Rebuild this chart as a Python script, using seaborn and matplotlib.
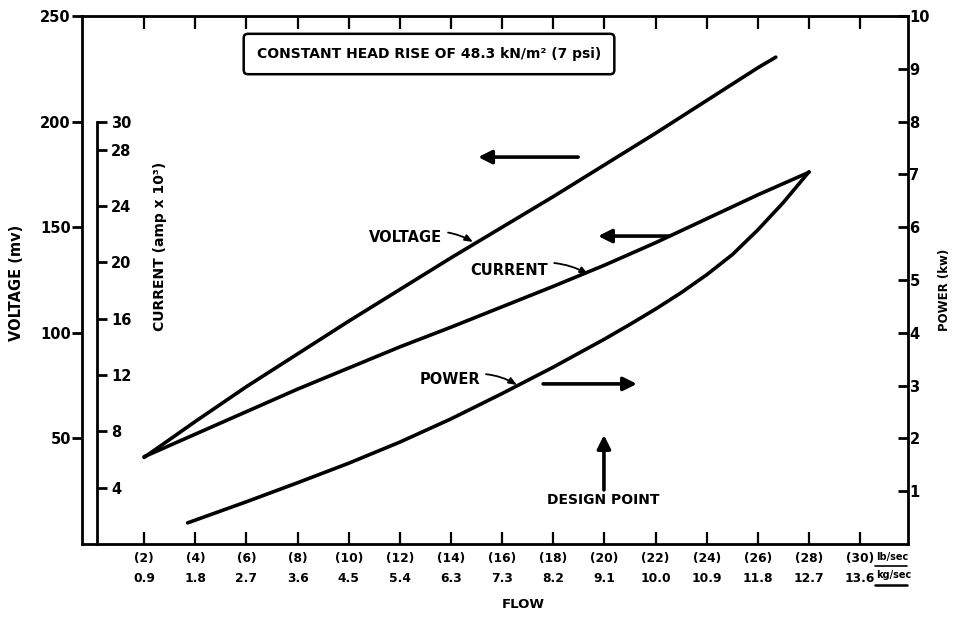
import numpy as np
import pandas as pd
import seaborn as sns
import matplotlib.pyplot as plt
from matplotlib.lines import Line2D

sns.set_style("ticks")
plt.rcParams['font.family'] = ['DejaVu Sans']
plt.rcParams['font.weight'] = 'bold'
for k in ["text.color", "axes.edgecolor", "xtick.color", "ytick.color", "axes.labelcolor"]:
    plt.rcParams[k] = "black"

# flow in lb/sec
voltage_flow = [2, 4, 6, 8, 10, 12, 14, 16, 18, 20, 22, 24, 26, 26.7]
voltage_mv = [41, 58, 74.5, 90, 105.5, 120.5, 135.5, 150, 164.5, 179.5, 194.5, 210, 225.5, 230.5]

current_flow = [2, 4, 6, 8, 10, 12, 14, 16, 18, 20, 22, 24, 26, 28]
current_amp = [6.2, 7.8, 9.4, 11.0, 12.5, 14.0, 15.4, 16.85, 18.3, 19.8, 21.4, 23.1, 24.8, 26.4]

power_flow = [3.7, 6, 8, 10, 12, 14, 16, 18, 20, 21, 22, 23, 24, 25, 26, 27, 28]
power_kw = [0.4, 0.8, 1.16, 1.53, 1.93, 2.37, 2.85, 3.35, 3.88, 4.16, 4.45, 4.76, 5.1, 5.48,
            5.95, 6.47, 7.05]

flow_lb_ticks = list(range(2, 31, 2))
flow_kg_labels = ["0.9", "1.8", "2.7", "3.6", "4.5", "5.4", "6.3", "7.3",
                  "8.2", "9.1", "10.0", "10.9", "11.8", "12.7", "13.6"]
voltage_ticks = [50, 100, 150, 200, 250]
current_ticks = [4, 8, 12, 16, 20, 24, 28, 30]
power_ticks = list(range(1, 11))

W, H = 954, 618
fig = plt.figure(figsize=(W / 100, H / 100), dpi=100)
ax = fig.add_axes([82 / W, 1 - 544 / H, (908 - 82) / W, (544 - 16) / H])
ax2 = ax.twinx()
ax3 = ax.twinx()

lw_curve = 2.6
sns.lineplot(x=voltage_flow, y=voltage_mv, ax=ax, color="black", lw=lw_curve, sort=False,
             solid_capstyle="round", solid_joinstyle="round")
sns.lineplot(x=current_flow, y=current_amp, ax=ax2, color="black", lw=lw_curve, sort=False,
             solid_capstyle="round", solid_joinstyle="round")
sns.lineplot(x=power_flow, y=power_kw, ax=ax3, color="black", lw=lw_curve, sort=False,
             solid_capstyle="round", solid_joinstyle="round")

ax.set_xlim(-0.43, 31.87)
ax.set_ylim(0, 250)
ax2.set_ylim(0, 37.5)
ax3.set_ylim(0, 10)

spine_w = 2.0
# voltage / main axis
for s in ["left", "bottom", "top"]:
    ax.spines[s].set_linewidth(spine_w)
ax.spines["right"].set_visible(False)
ax.set_yticks(voltage_ticks)
ax.tick_params(axis="y", direction="out", length=7, width=spine_w, labelsize=10.5, pad=1)
ax.set_xticks(flow_lb_ticks)
ax.set_xticklabels([f"({a})\n{b}" for a, b in zip(flow_lb_ticks, flow_kg_labels)],
                   linespacing=1.7)
ax.tick_params(axis="x", direction="in", length=9, width=1.6, labelsize=8.8, pad=6,
               top=True)
ax.set_xlabel("")
ax.set_ylabel("")

# current axis
for s in ["left", "bottom", "top"]:
    ax2.spines[s].set_visible(False)
ax2.spines["right"].set_position(("axes", 15 / 826))
ax2.spines["right"].set_bounds(0, 30)
ax2.spines["right"].set_linewidth(spine_w)
ax2.set_yticks(current_ticks)
ax2.tick_params(axis="y", direction="out", length=7, width=spine_w, labelsize=10.5, pad=3)
ax2.set_ylabel("")

# power axis
for s in ["left", "bottom", "top"]:
    ax3.spines[s].set_visible(False)
ax3.spines["right"].set_linewidth(spine_w)
ax3.set_yticks(power_ticks)
ax3.tick_params(axis="y", direction="in", length=7, width=spine_w, labelsize=10.5, pad=1)
ax3.set_ylabel("")

# axis titles
fig.text(17 / W, 1 - 283 / H, "VOLTAGE (mv)", rotation=90, ha="center", va="center",
         fontsize=10.5)
fig.text(160 / W, 1 - 246 / H, "CURRENT (amp x 10\u00b3)", rotation=90, ha="center", va="center",
         fontsize=10)
fig.text(945 / W, 1 - 290 / H, "POWER (kw)", rotation=90, ha="center", va="center", fontsize=8.5)
fig.text(523 / W, 1 - 604 / H, "FLOW", ha="center", va="center", fontsize=9.5)
fig.text(876 / W, 1 - 557 / H, "lb/sec", ha="left", va="center", fontsize=7)
fig.text(876 / W, 1 - 575 / H, "kg/sec", ha="left", va="center", fontsize=7)
fig.add_artist(Line2D([875 / W, 907 / W], [1 - 566 / H, 1 - 566 / H], color="black", lw=1.2))
fig.add_artist(Line2D([875 / W, 907 / W], [1 - 585 / H, 1 - 585 / H], color="black", lw=1.8))

# title box
ax.text(13.14, 232, "CONSTANT HEAD RISE OF 48.3 kN/m\u00b2 (7 psi)", ha="center", va="center",
        fontsize=10, bbox=dict(boxstyle="round,pad=0.95,rounding_size=0.3", fc="white",
                               ec="black", lw=1.8))

# direction arrows
big = dict(arrowstyle="-|>,head_length=0.8,head_width=0.4", lw=2.6, color="black",
           shrinkA=0, shrinkB=0)
ax.annotate("", xy=(15.06, 183.2), xytext=(18.97, 183.2), arrowprops=big)
ax.annotate("", xy=(19.75, 145.8), xytext=(22.53, 145.8), arrowprops=big)
ax.annotate("", xy=(21.27, 75.8), xytext=(17.6, 75.8), arrowprops=big)
ax.annotate("", xy=(19.98, 51.6), xytext=(19.98, 25.6), arrowprops=big)
ax.text(19.95, 20.8, "DESIGN POINT", ha="center", va="center", fontsize=10)

# curve labels with leaders
lead = dict(arrowstyle="-|>,head_length=0.45,head_width=0.18", lw=1.3, color="black",
            connectionstyle="arc3,rad=-0.25", shrinkA=2, shrinkB=0)
ax.annotate("VOLTAGE", xy=(14.86, 143.0), xytext=(13.65, 144.9), ha="right", va="center",
            fontsize=10.5, arrowprops=lead)
ax.annotate("CURRENT", xy=(19.36, 127.8), xytext=(17.8, 129.3), ha="right", va="center",
            fontsize=10.5, arrowprops=lead)
ax.annotate("POWER", xy=(16.58, 75.3), xytext=(15.13, 77.7), ha="right", va="center",
            fontsize=10.5, arrowprops=lead)

fig.savefig("out.png", dpi=100)
